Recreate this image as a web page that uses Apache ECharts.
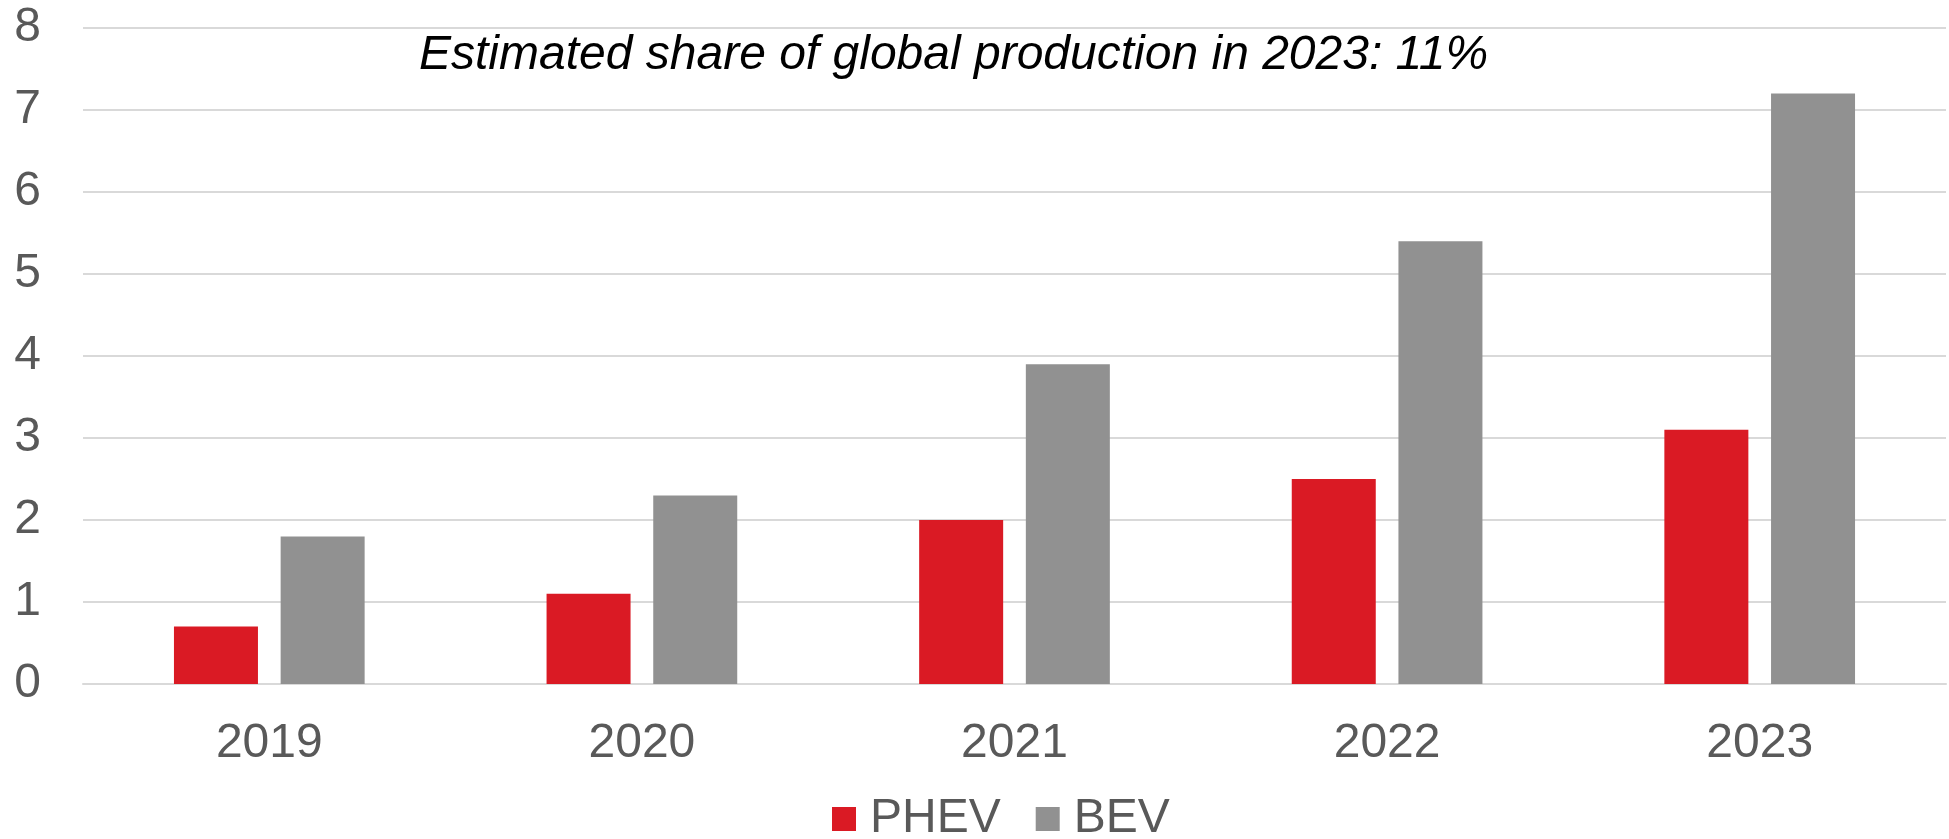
<!DOCTYPE html>
<html>
<head>
<meta charset="utf-8">
<script src="https://cdn.jsdelivr.net/npm/echarts@6/dist/echarts.min.js"></script>
<style>html,body{margin:0;padding:0;background:#fff;}#c{width:1949px;height:839px;}</style>
</head>
<body>
<div id="c"></div>
<script>
const categories = ['2019', '2020', '2021', '2022', '2023'];
const phev = [0.7, 1.1, 2.0, 2.5, 3.1];
const bev = [1.8, 2.3, 3.9, 5.4, 7.2];
const yTicks = { min: 0, max: 8, interval: 1 };
const annotation = 'Estimated share of global production in 2023: 11%';

const font = '"Liberation Sans", Arial, sans-serif';
const chart = echarts.init(document.getElementById('c'), null, { renderer: 'canvas' });
chart.setOption({
  animation: false,
  backgroundColor: '#ffffff',
  title: {
    text: annotation,
    left: 419,
    top: 32,
    padding: 0,
    textStyle: { fontFamily: font, fontSize: 48, fontStyle: 'italic', fontWeight: 'normal', color: '#000000' }
  },
  legend: {
    bottom: -9,
    left: 827,
    itemWidth: 24,
    itemHeight: 24,
    itemGap: 35,
    icon: 'rect',
    textStyle: { fontFamily: font, fontSize: 48, color: '#595959', padding: [0, 0, 0, 9] },
    data: ['PHEV', 'BEV']
  },
  grid: { left: 83, right: 3, top: 28, bottom: 155, containLabel: false },
  xAxis: {
    type: 'category',
    data: categories,
    axisLine: { show: true, lineStyle: { color: '#D9D9D9', width: 2 } },
    axisTick: { show: false },
    axisLabel: { fontFamily: font, fontSize: 48, color: '#595959', margin: 36 }
  },
  yAxis: {
    type: 'value',
    min: yTicks.min,
    max: yTicks.max,
    interval: yTicks.interval,
    axisLine: { show: false },
    axisTick: { show: false },
    splitLine: { lineStyle: { color: '#D9D9D9', width: 2 } },
    axisLabel: { fontFamily: font, fontSize: 48, color: '#595959', margin: 42 }
  },
  series: [
    { name: 'PHEV', type: 'bar', data: phev, barWidth: 84, barGap: '27%', itemStyle: { color: '#DA1A24' } },
    { name: 'BEV', type: 'bar', data: bev, barWidth: 84, itemStyle: { color: '#919191' } }
  ]
});
</script>
</body>
</html>
